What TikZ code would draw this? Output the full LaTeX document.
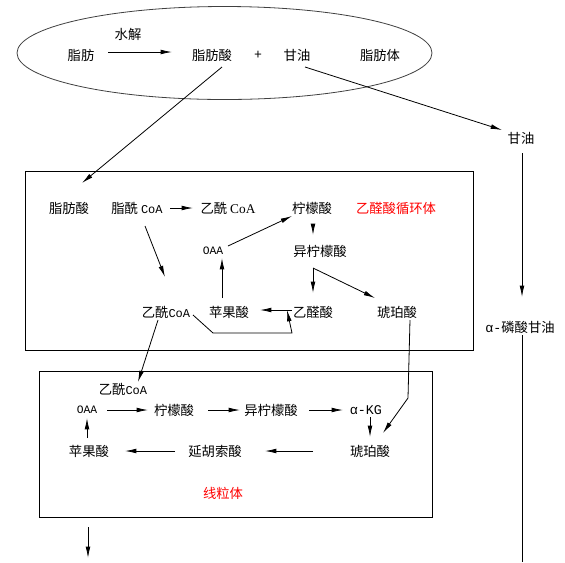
\documentclass[tikz,border=0pt]{standalone}
\usepackage{fontspec}
\setmainfont{Noto Sans CJK SC}
\setmonofont{Liberation Mono}
\newfontfamily\latinserif{Liberation Serif}
\usetikzlibrary{arrows.meta,calc}
\newcommand{\monosm}[2][9]{{\fontsize{#1}{11}\selectfont\ttfamily #2}}

\begin{document}
\begin{tikzpicture}[x=0.75pt, y=-0.75pt,
    every node/.style={inner sep=0pt, font=\fontsize{10}{12}\selectfont},
    arr/.style={semithick, -{Latex[length=8.5pt,width=3.5pt]}},
    redtext/.style={text=red}]
    \useasboundingbox (0,0) rectangle (565,562);
        % fat body
        \draw[semithick, black!75] (224.5,53) ellipse [x radius=207.5, y radius=46.5];
        \node (hydro) at (128,34) {水解};
        \node (fat) at (81,55) {脂肪};
        \node (fa) at (212,55) {脂肪酸};
        \node (plus) at (258,55) {+};
        \node (gly) at (297,55) {甘油};
        \node (fbody) at (380,55) {脂肪体};
        \node (gly2) at (521,138) {甘油};
        \node (agp) at (520,327) {\monosm[10]{α-}磷酸甘油};
        \coordinate (agpend) at (522,562);
        % glyoxysome
        \draw[semithick] (25,171) rectangle (473,350);
        \node (fa1) at (69,208) {脂肪酸};
        \node (acyl) at (137,208) {脂酰 \monosm{CoA}};
        \node (acoa1) at (228,208) {乙酰 {\latinserif CoA}};
        \node (cit1) at (312,208) {柠檬酸};
        \node[redtext] (glyox) at (396,208) {乙醛酸循环体};
        \node (oaa1) at (213,251) {\monosm[8.5]{OAA}};
        \node (icit1) at (320,251) {异柠檬酸};
        \node (acoa2) at (166,312) {乙酰\monosm{CoA}};
        \node (mal1) at (229,312) {苹果酸};
        \node (glx) at (313,312) {乙醛酸};
        \node (suc1) at (397,312) {琥珀酸};
        % mitochondrion
        \draw[semithick] (39,371) rectangle (432,517);
        \node (acoa3) at (123,389) {乙酰\monosm{CoA}};
        \node (oaa2) at (87,410) {\monosm[8.5]{OAA}};
        \node (cit2) at (174,410) {柠檬酸};
        \node (icit2) at (271,410) {异柠檬酸};
        \node (akg) at (366,410) {\monosm[10]{α-KG}};
        \node (suc2) at (370,451) {琥珀酸};
        \node (fum) at (215,451) {延胡索酸};
        \node (mal2) at (89,451) {苹果酸};
        \node[redtext] (mito) at (223,493) {线粒体};
        \coordinate (exitA) at (88,527);
        \coordinate (exitB) at (88,558);
        % connectors, top
        \draw[arr] ($(fat)+(27,-3)$) -- ($(fa)+(-40,-3)$);
        \draw[arr] ($(fa)+(10,12)$) -- ($(fa1)+(13,-25)$);
        \draw[arr] ($(gly)+(8,12)$) -- ($(gly2)+(-19,-8)$);
        \draw[arr] ($(gly2)+(1,15)$) -- ($(agp)+(2,-30)$);
        \draw[semithick] ($(agp)+(2,8)$) -- (agpend);
        % connectors, glyoxysome
        \draw[arr] ($(acyl)+(33,0)$) -- ($(acoa1)+(-35,0)$);
        \draw[arr] ($(oaa1)+(15,-5)$) -- ($(cit1)+(-20,8)$);
        \draw[arr] ($(cit1)+(1,17)$) -- ($(icit1)+(-7,-16)$);
        \draw[arr] ($(icit1)+(-7,17)$) -- ($(glx)+(0,-19)$);
        \draw[arr] ($(icit1)+(-7,17)$) -- ($(suc1)+(-22,-14)$);
        \draw[arr] ($(glx)+(-21,-2)$) -- ($(mal1)+(31,-2)$);
        \draw[arr] ($(mal1)+(-7,-14)$) -- ($(oaa1)+(9,7)$);
        \draw[arr] ($(acoa2)+(27,3)$) -- ++(20,18) -- ++(79,0) -- ($(glx)+(-26,-2)$);
        \draw[arr] ($(acyl)+(8,18)$) -- ($(acoa2)+(-1,-35)$);
        \draw[arr] ($(acoa2)+(-8,8)$) -- ($(acoa3)+(15,-7)$);
        \draw[arr] ($(suc1)+(13,8)$) -- ++(-2,78) -- ($(suc2)+(13,-18)$);
        % connectors, mitochondrion
        \draw[arr] ($(oaa2)+(20,0)$) -- ($(cit2)+(-26,0)$);
        \draw[arr] ($(cit2)+(34,0)$) -- ($(icit2)+(-31,0)$);
        \draw[arr] ($(icit2)+(38,0)$) -- ($(akg)+(-23,0)$);
        \draw[arr] ($(akg)+(4,7)$) -- ($(suc2)+(0,-14)$);
        \draw[arr] ($(suc2)+(-57,0)$) -- ($(fum)+(50,0)$);
        \draw[arr] ($(fum)+(-40,0)$) -- ($(mal2)+(36,0)$);
        \draw[arr] ($(mal2)+(-2,-13)$) -- ($(oaa2)+(0,8)$);
        \draw[arr] (exitA) -- (exitB);
    \end{tikzpicture}
\end{document}
